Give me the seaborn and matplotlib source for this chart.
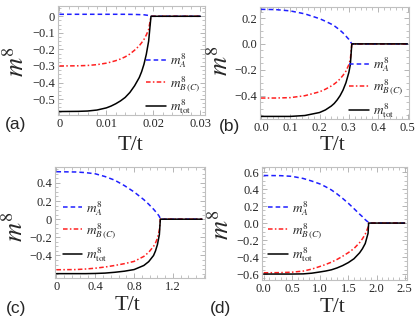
import numpy as np
import pandas as pd
import matplotlib
matplotlib.use("Agg")
import matplotlib.pyplot as plt
import seaborn as sns
from matplotlib.ticker import FixedLocator, AutoMinorLocator

# ---- data, one block per panel ----
# (a)
T_a = [0, 0.004, 0.006, 0.008, 0.010, 0.011, 0.012, 0.013, 0.014, 0.015, 0.016, 0.017, 0.0175, 0.018, 0.0185, 0.019, 0.0195, 0.025, 0.030]
mA_a = [0.012, 0.012, 0.012, 0.012, 0.012, 0.012, 0.012, 0.012, 0.012, 0.0115, 0.011, 0.010, 0.0095, 0.009, 0.007, 0.005, 0.0, 0.0, 0.0]
mB_a = [-0.300, -0.299, -0.297, -0.292, -0.283, -0.276, -0.268, -0.258, -0.245, -0.228, -0.205, -0.178, -0.160, -0.140, -0.113, -0.080, 0.0, 0.0, 0.0]
mtot_a = [-0.575, -0.574, -0.572, -0.566, -0.553, -0.542, -0.528, -0.511, -0.490, -0.460, -0.420, -0.370, -0.335, -0.290, -0.230, -0.150, 0.0, 0.0, 0.0]

# (b)
T_b = [0, 0.05, 0.10, 0.15, 0.20, 0.22, 0.24, 0.25, 0.26, 0.27, 0.28, 0.29, 0.30, 0.305, 0.31, 0.40, 0.50]
mA_b = [0.267, 0.265, 0.255, 0.232, 0.195, 0.175, 0.153, 0.140, 0.123, 0.105, 0.085, 0.060, 0.035, 0.018, 0.0, 0.0, 0.0]
mB_b = [-0.418, -0.418, -0.415, -0.400, -0.370, -0.350, -0.325, -0.310, -0.292, -0.270, -0.243, -0.210, -0.160, -0.120, 0.0, 0.0, 0.0]
mtot_b = [-0.560, -0.560, -0.560, -0.553, -0.530, -0.510, -0.480, -0.460, -0.433, -0.400, -0.357, -0.300, -0.220, -0.160, 0.0, 0.0, 0.0]

# (c)
T_c = [0, 0.2, 0.3, 0.4, 0.5, 0.6, 0.7, 0.8, 0.9, 0.95, 1.0, 1.02, 1.04, 1.06, 1.07, 1.3, 1.5]
mA_c = [0.523, 0.520, 0.513, 0.500, 0.470, 0.430, 0.370, 0.300, 0.215, 0.165, 0.110, 0.085, 0.060, 0.030, 0.0, 0.0, 0.0]
mB_c = [-0.557, -0.555, -0.549, -0.540, -0.527, -0.510, -0.490, -0.465, -0.410, -0.365, -0.300, -0.262, -0.210, -0.120, 0.0, 0.0, 0.0]
mtot_c = [-0.600, -0.600, -0.600, -0.598, -0.594, -0.585, -0.573, -0.555, -0.510, -0.468, -0.400, -0.350, -0.280, -0.170, 0.0, 0.0, 0.0]

# (d)
T_d = [0, 0.3, 0.5, 0.7, 0.85, 1.0, 1.1, 1.2, 1.3, 1.4, 1.5, 1.6, 1.7, 1.75, 1.8, 1.85, 1.86, 2.2, 2.5]
mA_d = [0.560, 0.558, 0.550, 0.525, 0.495, 0.460, 0.427, 0.390, 0.343, 0.290, 0.233, 0.170, 0.105, 0.075, 0.040, 0.012, 0.0, 0.0, 0.0]
mB_d = [-0.585, -0.583, -0.578, -0.565, -0.542, -0.510, -0.487, -0.460, -0.428, -0.390, -0.348, -0.300, -0.230, -0.185, -0.130, -0.050, 0.0, 0.0, 0.0]
mtot_d = [-0.600, -0.600, -0.600, -0.598, -0.590, -0.575, -0.564, -0.550, -0.528, -0.500, -0.465, -0.420, -0.350, -0.302, -0.240, -0.120, 0.0, 0.0, 0.0]

labels = [r"$m^{8}_{A}$", r"$m^{8}_{B\,(C)}$", r"$m^{8}_{\rm tot}$"]

sns.set_theme(style="ticks")
plt.rcParams["font.family"] = ["Liberation Serif", "DejaVu Serif"]
plt.rcParams["mathtext.fontset"] = "stix"
plt.rcParams["axes.unicode_minus"] = True

fig = plt.figure(figsize=(4.15, 3.23), dpi=100)
W, H = 415.0, 323.0

def box(l, r, t, b):
    return [l / W, 1 - b / H, (r - l) / W, (b - t) / H]

panels = [
    dict(T=T_a, A=mA_a, B=mB_a, tot=mtot_a, pos=box(58, 205, 6, 115),
         xlim=(-0.0003, 0.031), ylim=(-0.596, 0.062),
         xt=[0, 0.01, 0.02, 0.03], xl=["0", "0.01", "0.02", "0.03"],
         yt=[0, -0.1, -0.2, -0.3, -0.4, -0.5], yl=["0", "\u22120.1", "\u22120.2", "\u22120.3", "\u22120.4", "\u22120.5"],
         leg=(0.6, 0.285), tag="(a)", tagxy=(16, 124), ylab=(16, 62), xlab=(130, 146)),
    dict(T=T_b, A=mA_b, B=mB_b, tot=mtot_b, pos=box(260, 409, 7, 119),
         xlim=(-0.003, 0.505), ylim=(-0.58, 0.285),
         xt=[0, 0.1, 0.2, 0.3, 0.4, 0.5], xl=["0.0", "0.1", "0.2", "0.3", "0.4", "0.5"],
         yt=[0.2, 0, -0.2, -0.4], yl=["0.2", "0.0", "\u22120.2", "\u22120.4"],
         leg=(0.6, 0.28), tag="(b)", tagxy=(229, 126), ylab=(220, 61), xlab=(332, 146)),
    dict(T=T_c, A=mA_c, B=mB_c, tot=mtot_c, pos=box(55, 205, 167, 278),
         xlim=(-0.015, 1.53), ylim=(-0.648, 0.575),
         xt=[0, 0.4, 0.8, 1.2], xl=["0", "0.4", "0.8", "1.2"],
         yt=[0.4, 0.2, 0, -0.2, -0.4], yl=["0.4", "0.2", "0", "\u22120.2", "\u22120.4"],
         leg=(0.05, 0.42), tag="(c)", tagxy=(16, 308), ylab=(15, 227), xlab=(127, 305)),
    dict(T=T_d, A=mA_d, B=mB_d, tot=mtot_d, pos=box(262, 407, 167, 280),
         xlim=(-0.03, 2.54), ylim=(-0.67, 0.66),
         xt=[0, 0.5, 1.0, 1.5, 2.0, 2.5], xl=["0.0", "0.5", "1.0", "1.5", "2.0", "2.5"],
         yt=[0.6, 0.4, 0.2, 0, -0.2, -0.4, -0.6],
         yl=["0.6", "0.4", "0.2", "0.0", "\u22120.2", "\u22120.4", "\u22120.6"],
         leg=(0.04, 0.43), tag="(d)", tagxy=(220, 308), ylab=(221, 225), xlab=(332, 307)),
]

for p in panels:
    ax = fig.add_axes(p["pos"])
    sns.lineplot(x=p["T"], y=p["A"], ax=ax, color="#1f1fff", lw=1.1,
                 linestyle=(0, (3, 2)), label=labels[0], estimator=None)
    sns.lineplot(x=p["T"], y=p["B"], ax=ax, color="#ff2020", lw=1.1,
                 linestyle=(0, (3, 1.5, 1, 1.5)), label=labels[1], estimator=None)
    sns.lineplot(x=p["T"], y=p["tot"], ax=ax, color="black", lw=1.1,
                 label=labels[2], estimator=None)
    ax.set_xlim(p["xlim"])
    ax.set_ylim(p["ylim"])
    ax.xaxis.set_major_locator(FixedLocator(p["xt"]))
    ax.set_xticklabels(p["xl"])
    ax.yaxis.set_major_locator(FixedLocator(p["yt"]))
    ax.set_yticklabels(p["yl"])
    ax.xaxis.set_minor_locator(AutoMinorLocator(5))
    ax.yaxis.set_minor_locator(AutoMinorLocator(4))
    ax.tick_params(which="both", direction="in", top=True, right=True,
                   color="#aaaaaa", labelsize=9, pad=2)
    ax.tick_params(which="major", length=3.5, width=0.6)
    ax.tick_params(which="minor", length=2, width=0.5)
    for s in ax.spines.values():
        s.set_color("#c0c0c0")
        s.set_linewidth(0.8)
    ax.set_xlabel("")
    ax.set_ylabel("")
    ax.legend(loc="center left", bbox_to_anchor=p["leg"], frameon=False,
              fontsize=9.5, handlelength=1.5, handletextpad=0.3,
              labelspacing=0.3, borderpad=0, borderaxespad=0)
    fig.text(p["ylab"][0] / W, 1 - p["ylab"][1] / H, r"$m^{8}$", rotation=90,
             ha="center", va="center", fontsize=19)
    fig.text(p["xlab"][0] / W, 1 - p["xlab"][1] / H, "T/t",
             ha="center", va="center", fontsize=16)
    fig.text(p["tagxy"][0] / W, 1 - p["tagxy"][1] / H, p["tag"],
             ha="center", va="center", fontsize=12.5, family="Liberation Sans")

fig.savefig("out.png", dpi=100)
